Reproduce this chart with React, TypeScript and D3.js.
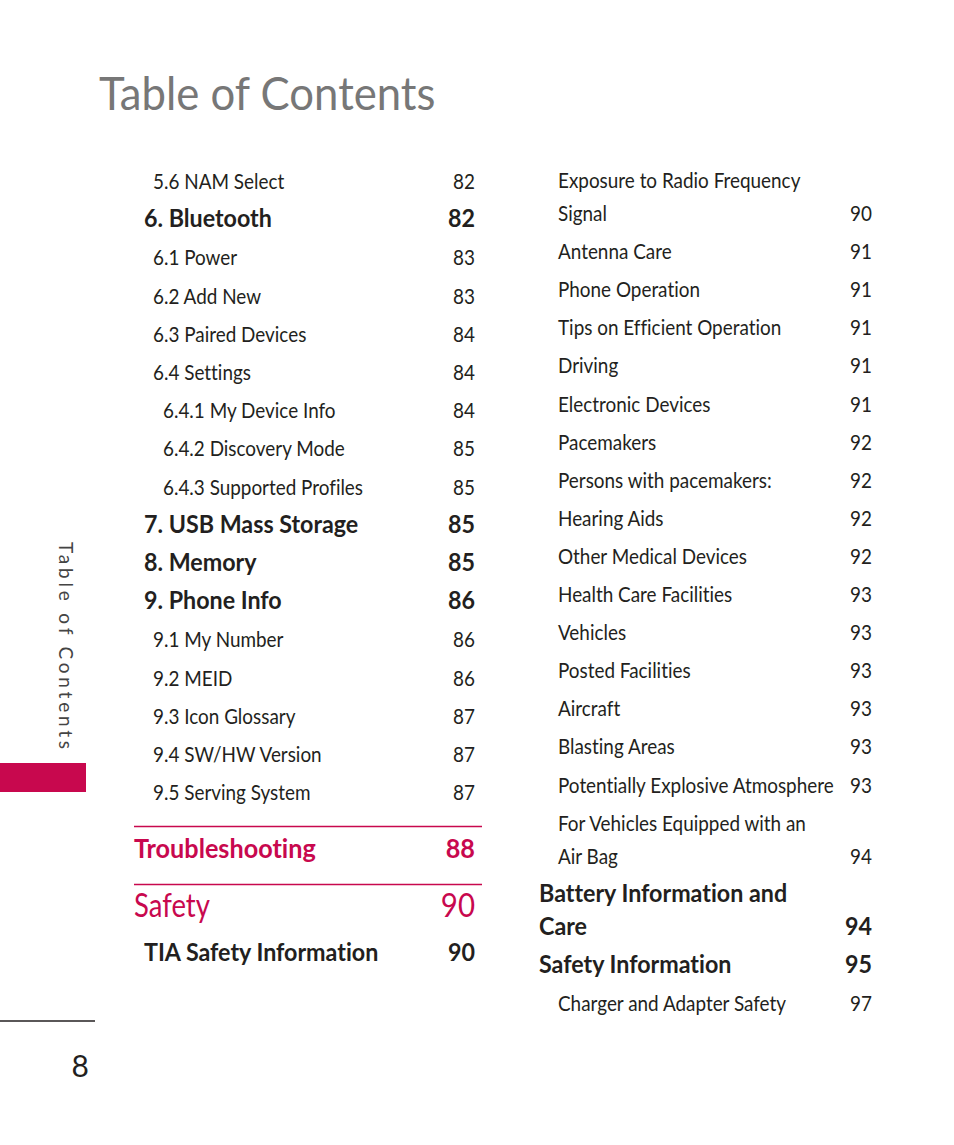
import React from "react";
import * as d3 from "d3";

// ---- data ----
const leftLabels = [
  "5.6 NAM Select", "6. Bluetooth", "6.1 Power", "6.2 Add New", "6.3 Paired Devices",
  "6.4 Settings", "6.4.1 My Device Info", "6.4.2 Discovery Mode", "6.4.3 Supported Profiles",
  "7. USB Mass Storage", "8. Memory", "9. Phone Info", "9.1 My Number", "9.2 MEID",
  "9.3 Icon Glossary", "9.4 SW/HW Version", "9.5 Serving System",
];
const leftPages = ["82", "82", "83", "83", "84", "84", "84", "85", "85", "85", "85", "86", "86", "86", "87", "87", "87"];
const leftLevels = [1, 0, 1, 1, 1, 1, 2, 2, 2, 0, 0, 0, 1, 1, 1, 1, 1];

const sectionLabels = ["Troubleshooting", "Safety"];
const sectionPages = ["88", "90"];
const tiaLabel = "TIA Safety Information";
const tiaPage = "90";

const rightLabels = [
  ["Exposure to Radio Frequency", "Signal"], ["Antenna Care"], ["Phone Operation"],
  ["Tips on Efficient Operation"], ["Driving"], ["Electronic Devices"], ["Pacemakers"],
  ["Persons with pacemakers:"], ["Hearing Aids"], ["Other Medical Devices"],
  ["Health Care Facilities"], ["Vehicles"], ["Posted Facilities"], ["Aircraft"],
  ["Blasting Areas"], ["Potentially Explosive Atmosphere"],
  ["For Vehicles Equipped with an", "Air Bag"], ["Battery Information and", "Care"],
  ["Safety Information"], ["Charger and Adapter Safety"],
];
const rightPages = ["90", "91", "91", "91", "91", "91", "92", "92", "92", "92", "93", "93", "93", "93", "93", "93", "94", "94", "95", "97"];
const rightLevels = [1, 1, 1, 1, 1, 1, 1, 1, 1, 1, 1, 1, 1, 1, 1, 1, 1, 0, 0, 1];

const titleText = "Table of Contents";
const pageNumber = "8";

const RED = "#c8084e";
const INK = "#231f20";
const FONT = "Lato, 'Noto Sans', sans-serif";

export default function App() {
  const W = 954, H = 1145;
  const rowY = d3.scaleLinear().domain([0, 1]).range([189, 189 + 38.2]);
  const indent = d3.scaleOrdinal<number, number>().domain([0, 1, 2]).range([144, 153, 163]);

  // right column cumulative positions
  const rightRows: { y: number[] }[] = [];
  let y = 188;
  rightLabels.forEach((lines) => {
    const ys: number[] = [];
    lines.forEach((_, j) => {
      if (j > 0) y += 33;
      ys.push(y);
    });
    rightRows.push({ y: ys });
    y += 38.1;
  });
  const rIndent = d3.scaleOrdinal<number, number>().domain([0, 1]).range([539, 558]);

  const T = (p: {
    x: number; y: number; s: string; size: number; weight?: number; fill?: string; anchor?: string; k?: number;
  }) => (
    <text
      transform={`translate(${p.x},${p.y}) scale(${p.k ?? ((p.weight ?? 400) >= 700 ? 0.97 : 0.9)},1)`}
      fontSize={p.size}
      fontWeight={p.weight ?? 400}
      fill={p.fill ?? INK}
      textAnchor={p.anchor ?? "start"}
      fontFamily={FONT}
      style={{ fontVariantLigatures: "none" }}
    >
      {p.s}
    </text>
  );

  return (
    <svg width={W} height={H} style={{ position: "absolute", left: 0, top: 0, background: "#fff" }}>
      <rect x={0} y={0} width={W} height={H} fill="#fff" />
      {/* title */}
      <T x={99} y={110} s={titleText} size={46} fill="#777777" k={0.95} />

      {/* side tab */}
      <text
        transform="translate(59,542) rotate(90)"
        fontSize={19}
        fill="#444"
        fontFamily={FONT}
        letterSpacing={3.8}
      >
        {titleText}
      </text>
      <rect x={0} y={763} width={86} height={29} fill={RED} />
      <line x1={0} x2={95} y1={1021} y2={1021} stroke={INK} strokeWidth={1.5} />
      <T x={89} y={1077} s={pageNumber} size={30} anchor="end" k={1} />

      {/* left column */}
      {leftLabels.map((s, i) => {
        const bold = leftLevels[i] === 0;
        const size = bold ? 24 : 21;
        return (
          <g key={"l" + i}>
            <T x={indent(leftLevels[i])} y={rowY(i)} s={s} size={size} weight={bold ? 700 : 400} />
            <T x={475} y={rowY(i)} s={leftPages[i]} size={size} weight={bold ? 700 : 400} anchor="end" />
          </g>
        );
      })}

      {/* sections */}
      <line x1={134} x2={482} y1={826.5} y2={826.5} stroke={RED} strokeWidth={1.3} />
      <T x={134} y={858} s={sectionLabels[0]} size={26} weight={700} fill={RED} />
      <T x={475} y={858} s={sectionPages[0]} size={26} weight={700} fill={RED} anchor="end" />
      <line x1={134} x2={482} y1={884.5} y2={884.5} stroke={RED} strokeWidth={1.3} />
      <T x={134} y={917} s={sectionLabels[1]} size={32} fill={RED} k={0.86} />
      <T x={475} y={917} s={sectionPages[1]} size={32} fill={RED} anchor="end" k={0.92} />
      <T x={144} y={961} s={tiaLabel} size={24} weight={700} />
      <T x={475} y={961} s={tiaPage} size={24} weight={700} anchor="end" />

      {/* right column */}
      {rightLabels.map((lines, i) => {
        const bold = rightLevels[i] === 0;
        const size = bold ? 24 : 21;
        const ys = rightRows[i].y;
        return (
          <g key={"r" + i}>
            {lines.map((s, j) => (
              <T key={j} x={rIndent(rightLevels[i])} y={ys[j]} s={s} size={size} weight={bold ? 700 : 400} />
            ))}
            <T x={872} y={ys[ys.length - 1]} s={rightPages[i]} size={size} weight={bold ? 700 : 400} anchor="end" />
          </g>
        );
      })}
    </svg>
  );
}
